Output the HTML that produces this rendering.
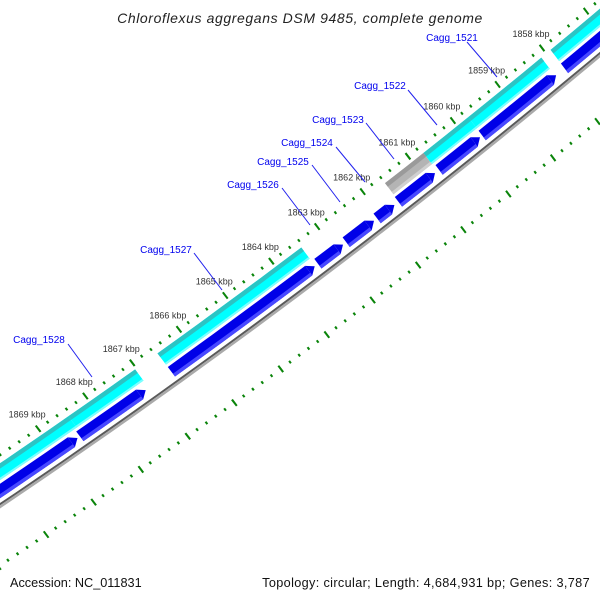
<!DOCTYPE html>
<html><head><meta charset="utf-8"><style>
html,body{margin:0;padding:0;background:#fff;}
svg{display:block;font-family:"Liberation Sans",sans-serif;}
</style></head><body>
<svg id="map" width="600" height="600" viewBox="0 0 600 600" xmlns="http://www.w3.org/2000/svg">
<rect width="600" height="600" fill="#fff"/>
<g id="tracks"></g>
<g id="labels"></g>
<text x="300" y="23" text-anchor="middle" font-size="14" font-style="italic" letter-spacing="0.6" fill="#222">Chloroflexus aggregans DSM 9485, complete genome</text>
<text x="10" y="587" font-size="12.7" fill="#111">Accession: NC_011831</text>
<text x="590" y="587" text-anchor="end" font-size="12.7" letter-spacing="0.35" fill="#111">Topology: circular; Length: 4,684,931 bp; Genes: 3,787</text>
</svg>
<script>
const tickKbp = [1858,1859,1860,1861,1862,1863,1864,1865,1866,1867,1868,1869];
const cyanStart = [1856,1858.11,1859.75,1863.44,1867.03,1868.45];
const cyanEnd = [1857.9,1859.75,1860.75,1866.55,1868.45,1872];
const grayStart = [1860.75];
const grayEnd = [1861.6];
const blueTip = [1856,1858.09,1859.8,1860.8,1861.7,1862.15,1862.83,1863.45,1867.1,1868.55];
const blueEnd = [1857.9,1859.75,1860.71,1861.61,1862.08,1862.76,1863.38,1866.55,1868.5,1872];
const geneNames = ["Cagg_1521","Cagg_1522","Cagg_1523","Cagg_1524","Cagg_1525","Cagg_1526","Cagg_1527","Cagg_1528"];
const geneLabelX = [452,380,338,307,283,253,166,39];
const geneLabelY = [37,85,119,142,161,184,249,339];
const leaderX1 = [467,408,366,336,312,282,194,68];
const leaderY1 = [42,90,123,147,165,188,253,344];
const leaderX2 = [497,437,394,365,340,310,222,92];
const leaderY2 = [77,125,159,182,202,225,290,377];

const NS="http://www.w3.org/2000/svg";
const P0=[542,48], U=[-0.798,0.603], N=[0.603,0.798], PX=57.4, SAG=7;
function pt(k,d){const a=(k-1858)*PX;const t=(k-1863.5)/5.5;const dd=d+SAG*(1-t*t);return [P0[0]+a*U[0]+dd*N[0], P0[1]+a*U[1]+dd*N[1]];}
const tracks=document.getElementById('tracks'), labels=document.getElementById('labels');
function poly(parent,pts,fill){const p=document.createElementNS(NS,'polygon');p.setAttribute('points',pts.map(q=>q[0].toFixed(1)+','+q[1].toFixed(1)).join(' '));p.setAttribute('fill',fill);parent.appendChild(p);return p;}
function band(parent,k1,k2,d1,d2,fill){
  const pts=[];const n=Math.max(1,Math.ceil(Math.abs(k2-k1)/0.5));
  for(let i=0;i<=n;i++)pts.push(pt(k1+(k2-k1)*i/n,d1));
  for(let i=n;i>=0;i--)pts.push(pt(k1+(k2-k1)*i/n,d2));
  return poly(parent,pts,fill);
}

[0,92].forEach((d0)=>{
  for(let i=0;i<=80;i++){
    const k=1856+i*0.2; const major=Math.abs(k-Math.round(k))<0.01;
    const h=major?4:1.5;
    const r=band(tracks,k-0.018,k+0.018,d0-h,d0+h,'#0a840a');
    
    
  }
});
tickKbp.forEach(k=>{
  const p=pt(k,0);
  const t=document.createElementNS(NS,'text');
  t.setAttribute('x',(p[0]-11).toFixed(1));t.setAttribute('y',(p[1]-11).toFixed(1));
  t.setAttribute('text-anchor','middle');t.setAttribute('font-size','9');t.setAttribute('fill','#333');
  t.textContent=k+' kbp';
  
  
  labels.appendChild(t);
});
cyanStart.forEach((s,i)=>{
  const e=cyanEnd[i];
  const g=document.createElementNS(NS,'g');
  
  
  band(g,s,e,7,21,'#00ffff');band(g,s,e,7,11.5,'#2cc4c4');band(g,s,e,19,21,'#7dffff');
  tracks.appendChild(g);
});
grayStart.forEach((s,i)=>{
  const e=grayEnd[i];
  const g=document.createElementNS(NS,'g');
  
  
  band(g,s,e,7,21,'#b4b4b4');band(g,s,e,7,11.5,'#9a9a9a');band(g,s,e,18,21,'#d0d0d0');
  tracks.appendChild(g);
});
blueTip.forEach((tip,i)=>{
  const e=blueEnd[i]; const b=tip+0.13;
  const g=document.createElementNS(NS,'g');
  
  
  band(g,e,b,24,36,'#0000e8');
  poly(g,[pt(b,24),pt(tip,30),pt(b,36)],'#0000e8');
  band(g,e,b,32.5,36,'#4848ff');
  tracks.appendChild(g);
});
const bb1=band(tracks,1855,1873,40,42,'#5a5a5a');


const bb2=band(tracks,1855,1873,42,44.5,'#aaaaaa');


geneNames.forEach((n,i)=>{
  const l=document.createElementNS(NS,'line');
  l.setAttribute('x1',leaderX1[i]);l.setAttribute('y1',leaderY1[i]);l.setAttribute('x2',leaderX2[i]);l.setAttribute('y2',leaderY2[i]);
  l.setAttribute('stroke','#2222ee');l.setAttribute('stroke-width','1');
  
  
  labels.appendChild(l);
  const t=document.createElementNS(NS,'text');
  t.setAttribute('x',geneLabelX[i]);t.setAttribute('y',geneLabelY[i]+4);t.setAttribute('text-anchor','middle');
  t.setAttribute('font-size','10');t.setAttribute('fill','#0000ee');
  t.textContent=n;
  
  
  labels.appendChild(t);
});
</script>
</body></html>
